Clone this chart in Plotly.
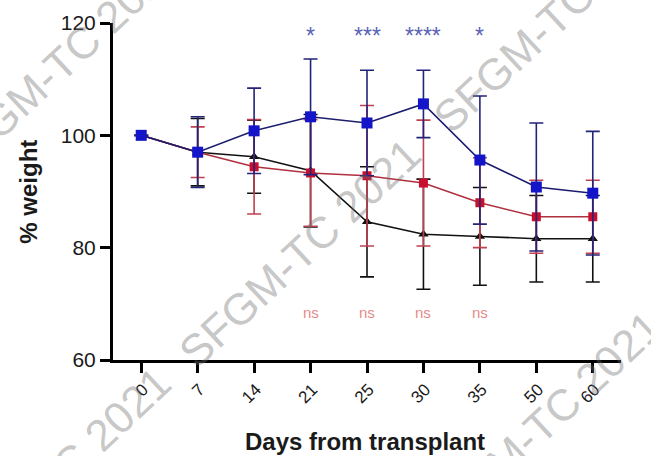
import plotly.graph_objects as go

# ---- data ----
days = ["0", "7", "14", "21", "25", "30", "35", "50", "60"]

blue_mean = [100.0, 97.0, 100.8, 103.3, 102.2, 105.6, 95.6, 90.8, 89.7]
blue_err = [0.0, 6.3, 7.6, 10.3, 9.4, 6.0, 11.4, 11.4, 11.0]

red_mean = [100.0, 97.0, 94.4, 93.3, 92.8, 91.5, 88.0, 85.5, 85.5]
red_err = [0.0, 4.5, 8.4, 9.5, 12.5, 11.2, 8.0, 6.5, 6.5]

black_mean = [100.0, 97.0, 96.2, 93.7, 84.6, 82.4, 82.0, 81.6, 81.6]
black_err = [0.0, 6.0, 6.5, 10.0, 9.8, 9.8, 8.7, 7.7, 7.7]

star_days = ["21", "25", "30", "35"]
star_labels = ["*", "***", "****", "*"]
ns_days = ["21", "25", "30", "35"]
ns_labels = ["ns", "ns", "ns", "ns"]

y_ticks = [60, 80, 100, 120]
watermark = "SFGM-TC 2021"


def err(a):
    return [e if e > 0 else None for e in a]


fig = go.Figure()

# black triangles
fig.add_trace(go.Scatter(
    x=days, y=black_mean, mode="lines+markers",
    line=dict(color="#111111", width=1.6),
    marker=dict(symbol="triangle-up", size=9, color="#111111"),
    error_y=dict(type="data", array=err(black_err), visible=True,
                 color="#111111", thickness=1.6, width=7),
    showlegend=False,
))
# red squares
fig.add_trace(go.Scatter(
    x=days, y=red_mean, mode="lines+markers",
    line=dict(color="#b0303e", width=1.6),
    marker=dict(symbol="square", size=9, color="#c8102e"),
    error_y=dict(type="data", array=err(red_err), visible=True,
                 color="#c04050", thickness=1.6, width=7),
    showlegend=False,
))
# blue squares
fig.add_trace(go.Scatter(
    x=days, y=blue_mean, mode="lines+markers",
    line=dict(color="#1c1c6e", width=1.6),
    marker=dict(symbol="square", size=11, color="#1414c8"),
    error_y=dict(type="data", array=err(blue_err), visible=True,
                 color="#23237a", thickness=1.6, width=7),
    showlegend=False,
))

annotations = []
for d, s in zip(star_days, star_labels):
    annotations.append(dict(
        x=days.index(d), y=117.6, xref="x", yref="y", text=s, showarrow=False,
        font=dict(family="Liberation Sans, Arial", size=23, color="#5b63b5"),
        xanchor="center", yanchor="middle"))
for d, s in zip(ns_days, ns_labels):
    annotations.append(dict(
        x=days.index(d), y=68.5, xref="x", yref="y", text=s, showarrow=False,
        font=dict(family="Liberation Sans, Arial", size=15, color="#e68a8a"),
        xanchor="center", yanchor="middle"))

# axis titles
annotations.append(dict(
    x=-0.167, y=0.5, xref="paper", yref="paper", text="<b>% weight</b>",
    textangle=-90, showarrow=False,
    font=dict(family="Liberation Sans, Arial", size=24, color="#1a1a1a"),
    xanchor="center", yanchor="middle"))
annotations.append(dict(
    x=0.496, y=-0.243, xref="paper", yref="paper", text="<b>Days from transplant</b>",
    showarrow=False,
    font=dict(family="Liberation Sans, Arial", size=24, color="#1a1a1a"),
    xanchor="center", yanchor="middle"))

# watermarks
for wx, wy in [(-0.104, 0.881), (0.870, 1.015), (0.368, 0.320),
               (-0.124, -0.362), (0.841, -0.193)]:
    annotations.append(dict(
        x=wx, y=wy, xref="paper", yref="paper", text=watermark,
        textangle=-43, showarrow=False,
        font=dict(family="Liberation Sans, Arial", size=44,
                  color="rgba(110,110,110,0.40)"),
        xanchor="center", yanchor="middle"))

fig.update_layout(
    width=651, height=456,
    margin=dict(l=113, r=30, t=23, b=96),
    paper_bgcolor="white", plot_bgcolor="white",
    annotations=annotations,
    xaxis=dict(
        type="category", range=[-0.5, 8.5],
        showline=True, linecolor="#000000", linewidth=3,
        ticks="outside", ticklen=10, tickwidth=3, tickcolor="#000000",
        tickangle=-45, ticklabelshift=2,
        tickfont=dict(family="Liberation Sans, Arial", size=17, color="#1a1a1a"),
        showgrid=False, zeroline=False,
    ),
    yaxis=dict(
        range=[60, 120], tickvals=y_ticks,
        showline=True, linecolor="#000000", linewidth=3,
        ticks="outside", ticklen=10, tickwidth=3, tickcolor="#000000",
        tickfont=dict(family="Liberation Sans, Arial", size=21, color="#1a1a1a"),
        showgrid=False, zeroline=False,
    ),
)

fig.write_html("out.html")
